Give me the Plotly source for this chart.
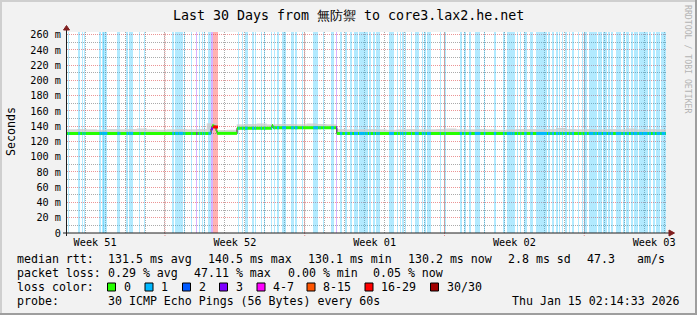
import plotly.graph_objects as go
from datetime import datetime, timedelta

# ---------------- data ----------------
TITLE = "Last 30 Days from 無防禦 to core3.lax2.he.net"
END_TIME = datetime(2026, 1, 15, 2, 14, 33)
START_TIME = END_TIME - timedelta(days=30)

week_label_times = ["2025-12-17 12:00", "2025-12-24 12:00", "2025-12-31 12:00",
                    "2026-01-07 12:00", "2026-01-14 12:00"]
week_labels = ["Week 51", "Week 52", "Week 01", "Week 02", "Week 03"]
week_starts = ["2025-12-21", "2025-12-28", "2026-01-04", "2026-01-11"]

y_tick_vals = [0, 20, 40, 60, 80, 100, 120, 140, 160, 180, 200, 220, 240, 260]
y_tick_text = ["0", "20 m", "40 m", "60 m", "80 m", "100 m", "120 m", "140 m",
               "160 m", "180 m", "200 m", "220 m", "240 m", "260 m"]

# median rtt (ms), piecewise constant, hours after graph start
median_change_h = [0, 173.2, 174.4, 177.0, 179.2, 180.4, 204.4, 246.4, 247.6, 324.4]
median_ms = [130.6, 136.5, 140.5, 139.0, 134.0, 130.6, 137.4, 141.0, 138.0, 130.5]

# top of the smoke (ms), one value per 12 hours
smoke_top_ms = [136, 136.5, 136, 135.5, 136.5, 136, 136.5, 137, 136, 135.5,
                136, 136.5, 136, 136.5, 144, 135, 135.5, 142.5, 143, 143.5,
                142.5, 143, 143, 142.5, 143.5, 143, 142.5, 136.5, 136, 136,
                136.5, 136, 135.5, 136, 136.5, 136, 136, 136.5, 137, 136,
                136, 136.5, 136, 135.5, 136, 136.5, 136.5, 136, 136.5, 137.5,
                136.5, 136, 136.5, 136, 136.5, 136, 137, 136, 136.5, 136]

# packet loss events: start (hours after graph start), duration (hours), loss level index
loss_start_h = [1.5, 13.5, 18.5, 21, 39, 41.5, 43.5, 60.5, 63, 71.5, 74, 76, 87, 93,
                126.5, 130, 134, 141, 149.5, 155.5, 159, 162.5, 165, 170, 173, 175.5,
                206, 210.5, 214, 222.5, 226, 233, 237, 245.5, 249, 252.5, 258.5,
                269.5, 274, 282.5, 296, 303.5, 308, 317.5, 323.5, 328, 334, 340,
                345, 351, 356, 359.5, 363, 368, 371.5, 374, 387, 396.5, 400, 402.5,
                406, 413.5, 418, 426.5, 429, 432.5, 448, 454, 472, 477, 483, 490,
                501, 513, 524, 528.5, 533.5, 536, 541, 545, 549.5, 557, 564, 578,
                582.5, 587.5, 591, 594.5, 598, 603, 606.5, 614, 618.5, 622, 627,
                634, 638, 644, 650, 653.5, 659.5, 668, 672.5, 677.5, 681, 687, 692,
                699, 704, 708.5, 714.5]
loss_hours = [1.2, 2.4, 1.2, 1.2, 2.4, 2.4, 5, 2.4, 1.2, 2, 2, 3.6, 1.2, 1.2,
              2.4, 3.6, 6, 1.2, 1.2, 1.2, 1.2, 1.2, 1.2, 3, 2.4, 6,
              1.2, 1.2, 3, 2.4, 1.2, 1.2, 1.2, 1.2, 1.2, 2.4, 4.8,
              3, 3, 1.2, 6, 1.2, 1.2, 3, 1.2, 3, 3, 3,
              4.8, 4.8, 3, 2, 2, 2, 2, 2, 6, 1.2, 2, 2,
              2, 1.2, 4.8, 2, 2, 4.8, 1.2, 1.2, 3, 2, 3, 7,
              2, 3, 2, 4.8, 2, 2, 1.2, 1.2, 3, 3, 13, 3,
              3, 3, 2, 2, 3, 2, 3, 1.2, 1.2, 3, 6,
              3, 4.8, 4.8, 3, 3, 7, 3, 3, 3, 4.8, 4.8, 6,
              3, 3, 4.8, 5]
loss_level = [1] * len(loss_start_h)
loss_level[loss_start_h.index(155.5)] = 3
loss_level[loss_start_h.index(173)] = 3
loss_level[loss_start_h.index(175.5)] = 6
loss_level[loss_start_h.index(323.5)] = 3

loss_labels = ["0", "1", "2", "3", "4-7", "8-15", "16-29", "30/30"]
loss_colors = ["#26ff00", "#00b8ff", "#0059ff", "#7e00ff", "#ff00ff", "#ff5500", "#ff0000", "#a10000"]

median_line = ["median rtt:", "131.5 ms avg", "140.5 ms max", "130.1 ms min",
               "130.2 ms now", "2.8 ms sd", "47.3", "am/s"]
loss_line = ["packet loss:", "0.29 % avg", "47.11 % max", "0.00 % min", "0.05 % now"]
probe_text = "30 ICMP Echo Pings (56 Bytes) every 60s"
stamp_text = "Thu Jan 15 02:14:33 2026"

# ---------------- layout constants ----------------
W, H = 697, 315
ML, MR, MT, MB = 67, 31, 32, 82
PW = W - ML - MR
PH = H - MT - MB
Y_TOP = 263.5
MONO = "DejaVu Sans Mono"
LEG_FS = 11.6
AX_FS = 10.2
GRID_C = "rgba(143,143,143,0.75)"
MGRID_C = "rgba(222,79,79,0.6)"
ARROW_C = "rgb(128,31,31)"
AXIS_C = "#1f1f1f"
BAND_ALPHA = 0.3


def fx(px):
    return (px - ML) / PW


def fy(py):
    return (MT + PH - py) / PH


def t(h):
    return START_TIME + timedelta(hours=h)


def rgba(hexc, a):
    hexc = hexc.lstrip("#")
    r, g, b = int(hexc[0:2], 16), int(hexc[2:4], 16), int(hexc[4:6], 16)
    return f"rgba({r},{g},{b},{a})"


def median_at(h):
    v = median_ms[0]
    for ch, mv in zip(median_change_h, median_ms):
        if ch <= h:
            v = mv
    return v


fig = go.Figure()

# loss background bands
fig.add_trace(go.Bar(
    x=[t(s + d / 2) for s, d in zip(loss_start_h, loss_hours)],
    y=[Y_TOP] * len(loss_start_h),
    width=[d * 3600 * 1000 for d in loss_hours],
    marker=dict(color=[rgba(loss_colors[l], BAND_ALPHA) for l in loss_level], line=dict(width=0)),
    hoverinfo="skip", showlegend=False,
))

# smoke
med_x = [t(h) for h in median_change_h] + [END_TIME]
med_y = median_ms + [median_ms[-1]]
fig.add_trace(go.Scatter(x=med_x, y=med_y, mode="lines", line=dict(width=0, color="rgba(0,0,0,0)", shape="hv"),
                         hoverinfo="skip", showlegend=False))
fig.add_trace(go.Scatter(x=[t(12 * i) for i in range(len(smoke_top_ms))] + [END_TIME],
                         y=smoke_top_ms + [smoke_top_ms[-1]], mode="lines",
                         line=dict(width=0, color="rgba(0,0,0,0)", shape="hv"),
                         fill="tonexty", fillcolor="rgba(200,200,200,0.75)", hoverinfo="skip", showlegend=False))

# thin dark median (shows the steps)
fig.add_trace(go.Scatter(x=med_x, y=med_y, mode="lines", line=dict(width=1, color="#202020", shape="hv"),
                         hoverinfo="skip", showlegend=False))

# median colored by loss: level 0 everywhere, overlays for loss events
seg_x, seg_y = [], []
bounds = median_change_h + [720]
for i, v in enumerate(median_ms):
    seg_x += [t(bounds[i]), t(bounds[i + 1]), None]
    seg_y += [v, v, None]
fig.add_trace(go.Scatter(x=seg_x, y=seg_y, mode="lines", line=dict(width=3, color=loss_colors[0]),
                         hoverinfo="skip", showlegend=False))
for lvl in sorted(set(loss_level)):
    lx, ly = [], []
    for s, d, l in zip(loss_start_h, loss_hours, loss_level):
        if l != lvl:
            continue
        v = median_at(s + d / 2)
        lx += [t(s), t(s + d), None]
        ly += [v, v, None]
    fig.add_trace(go.Scatter(x=lx, y=ly, mode="lines", line=dict(width=3, color=loss_colors[lvl]),
                             hoverinfo="skip", showlegend=False))

shapes = []
# week (major) grid lines with small ticks below the axis
for ws in week_starts:
    shapes.append(dict(type="line", xref="x", yref="paper", x0=ws, x1=ws, y0=fy(236), y1=1,
                       line=dict(color=MGRID_C, width=1, dash="1px,1px"), layer="between"))
# axes lines and arrows
shapes.append(dict(type="line", xref="paper", yref="paper", x0=fx(63), x1=fx(669), y0=fy(233), y1=fy(233),
                   line=dict(color=AXIS_C, width=1), layer="above"))
shapes.append(dict(type="line", xref="paper", yref="paper", x0=fx(66.5), x1=fx(66.5), y0=fy(236), y1=fy(29),
                   line=dict(color=AXIS_C, width=1), layer="above"))
shapes.append(dict(type="path", xref="paper", yref="paper",
                   path=f"M {fx(669)},{fy(230)} L {fx(674.5)},{fy(233)} L {fx(669)},{fy(236)} Z",
                   fillcolor=ARROW_C, line=dict(color=ARROW_C, width=1), layer="above"))
shapes.append(dict(type="path", xref="paper", yref="paper",
                   path=f"M {fx(63.5)},{fy(30)} L {fx(66.5)},{fy(25.5)} L {fx(69.5)},{fy(30)} Z",
                   fillcolor=ARROW_C, line=dict(color=ARROW_C, width=1), layer="above"))
# frame (shade A / shade B)
for (x0, y0, x1, y1, c) in [(0, 0, 697, 2, "#cfcfcf"), (0, 0, 2, 315, "#cfcfcf"),
                            (0, 313, 697, 315, "#9e9e9e"), (695, 0, 697, 315, "#9e9e9e")]:
    shapes.append(dict(type="rect", xref="paper", yref="paper", x0=fx(x0), x1=fx(x1), y0=fy(y1), y1=fy(y0),
                       fillcolor=c, line=dict(width=0), layer="above"))

annotations = []


def text(px, py, s, size=LEG_FS, anchor="left", color="#000000", angle=0):
    annotations.append(dict(x=fx(px), y=fy(py), xref="paper", yref="paper", text=s, showarrow=False,
                            xanchor=anchor, yanchor="middle", textangle=angle,
                            font=dict(family=MONO, size=size, color=color), borderpad=0))


text(348.5, 15, TITLE, size=13.3, anchor="center")
text(11, 132, "Seconds", anchor="center", angle=-90)
text(688, 59, "RRDTOOL / TOBI OETIKER", size=8.2, anchor="center", color="#b4b4b4", angle=90)

for px, s in zip([16, 107, 207, 307, 407, 507, 586, 636], median_line):
    text(px, 259, s)
for px, s in zip([16, 107, 193, 287, 372], loss_line):
    text(px, 273, s)
text(16, 287, "loss color:")
box_x = [107.5, 145, 182.5, 219.5, 257, 307, 365, 430.5]
for bx, lab, col in zip(box_x, loss_labels, loss_colors):
    shapes.append(dict(type="rect", xref="paper", yref="paper", x0=fx(bx), x1=fx(bx + 8),
                       y0=fy(291), y1=fy(283), fillcolor=col, line=dict(color="#000000", width=1), layer="above"))
    text(bx + 15, 287, lab)
text(16, 301, "probe:")
text(107, 301, probe_text)
text(681, 301, stamp_text, anchor="right")

fig.update_layout(
    width=W, height=H,
    margin=dict(l=ML, r=MR, t=MT, b=MB, pad=0),
    paper_bgcolor="#f2f2f2", plot_bgcolor="#ffffff",
    showlegend=False, barmode="overlay", bargap=0,
    shapes=shapes, annotations=annotations,
    font=dict(family=MONO, color="#000000"),
    xaxis=dict(type="date", range=[START_TIME, END_TIME], tickmode="array",
               tickvals=week_label_times, ticktext=week_labels, showgrid=False,
               showline=False, zeroline=False, ticks="", ticklabelstandoff=2,
               tickfont=dict(family=MONO, size=AX_FS, color="#000000"),
               minor=dict(tickmode="linear", tick0="2025-12-21", dtick=86400000, showgrid=True,
                          gridcolor=GRID_C, griddash="1px,1px", gridwidth=1, ticks=""),
               fixedrange=True),
    yaxis=dict(range=[0, Y_TOP], tickmode="array", tickvals=y_tick_vals, ticktext=y_tick_text,
               showgrid=True, gridcolor=MGRID_C, griddash="1px,1px", gridwidth=1,
               showline=False, zeroline=False, ticks="", ticklabelstandoff=5,
               tickfont=dict(family=MONO, size=AX_FS, color="#000000"),
               minor=dict(tickmode="linear", tick0=10, dtick=20, showgrid=True,
                          gridcolor=GRID_C, griddash="1px,1px", gridwidth=1, ticks=""),
               fixedrange=True),
)

fig.write_html("out.html")
